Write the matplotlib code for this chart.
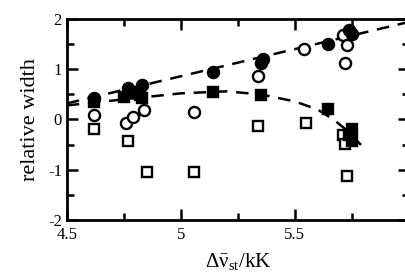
import matplotlib
matplotlib.use('Agg')
import matplotlib.pyplot as plt
from matplotlib.ticker import MultipleLocator

plt.rcParams['font.family'] = 'Liberation Serif'
plt.rcParams['mathtext.fontset'] = 'custom'
plt.rcParams['mathtext.rm'] = 'Liberation Serif'
plt.rcParams['mathtext.it'] = 'Liberation Serif:italic'
plt.rcParams['axes.unicode_minus'] = False

# filled circles
fc_x = [4.62, 4.77, 4.83, 5.14, 5.35, 5.36, 5.645, 5.74, 5.75]
fc_y = [0.42, 0.62, 0.68, 0.94, 1.12, 1.2, 1.5, 1.78, 1.7]
# open circles
oc_x = [4.62, 4.76, 4.79, 4.84, 5.06, 5.34, 5.54, 5.71, 5.73, 5.72]
oc_y = [0.08, -0.06, 0.04, 0.18, 0.14, 0.86, 1.4, 1.68, 1.48, 1.12]
# filled squares
fs_x = [4.62, 4.75, 4.79, 4.82, 4.83, 5.14, 5.35, 5.645, 5.75, 5.75, 5.74]
fs_y = [0.34, 0.44, 0.52, 0.48, 0.42, 0.54, 0.48, 0.2, -0.18, -0.42, -0.3]
# open squares
os_x = [4.62, 4.77, 4.85, 5.06, 5.34, 5.55, 5.71, 5.72, 5.73]
os_y = [-0.18, -0.42, -1.04, -1.04, -0.12, -0.06, -0.3, -0.48, -1.12]

# dashed guide lines
line1_x = [4.5, 6.0]
line1_y = [0.32, 1.94]
line2_x = [4.5, 4.75, 5.0, 5.2, 5.35, 5.5, 5.6, 5.67, 5.73, 5.8]
line2_y = [0.28, 0.4, 0.52, 0.56, 0.5, 0.36, 0.2, 0.0, -0.22, -0.55]

fig = plt.figure(figsize=(4.05, 2.75), dpi=100)
ax = fig.add_axes([0.165, 0.2, 0.844, 0.731])

dash = (0, (5, 3.5))
ax.plot(line1_x, line1_y, color='black', lw=1.8, linestyle=dash)
ax.plot(line2_x, line2_y, color='black', lw=1.8, linestyle=dash)

ms = 8
mew = 1.7
ax.plot(oc_x, oc_y, 'o', ms=ms, mfc='white', mec='black', mew=mew)
ax.plot(os_x, os_y, 's', ms=7, mfc='white', mec='black', mew=mew)
ax.plot(fs_x, fs_y, 's', ms=7, mfc='black', mec='black', mew=mew)
ax.plot(fc_x, fc_y, 'o', ms=ms, mfc='black', mec='black', mew=mew)

ax.set_xlim(4.5, 6.0)
ax.set_ylim(-2, 2)
ax.set_xticks([4.5, 5, 5.5])
ax.set_xticklabels(['4.5', '5', '5.5'])
ax.xaxis.set_minor_locator(MultipleLocator(0.25))
ax.set_yticks([-2, -1, 0, 1, 2])
ax.yaxis.set_minor_locator(MultipleLocator(0.5))
ax.tick_params(which='both', direction='in', top=True, right=True, labelsize=12, width=1.8)
ax.tick_params(which='major', length=8)
ax.tick_params(which='minor', length=5)
ax.tick_params(axis='x', pad=5)
for s in ax.spines.values():
    s.set_linewidth(2)

ax.set_ylabel('relative width', fontsize=16, labelpad=6)
ax.set_xlabel(r'$\Delta\bar{\mathrm{ν}}_{\mathrm{st}}$/kK', fontsize=15, labelpad=6)

fig.savefig('out.png', dpi=100)
